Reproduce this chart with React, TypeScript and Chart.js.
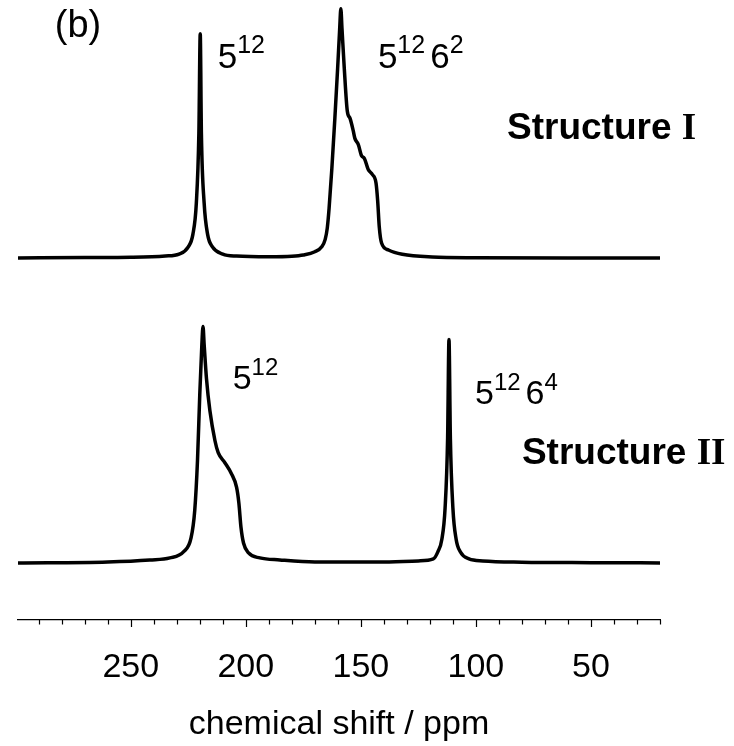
import { useEffect, useRef } from 'react';
import { Chart, registerables } from 'chart.js';

Chart.register(...registerables);

// 13C spectra of the two hydrate structures (intensity in arbitrary units, tallest peak = 100)
const TOP_PPM = [
  299, 270, 250, 235, 229, 225, 223, 221.5, 220.4, 219.8, 219.3, 218.1, 216.6, 214.5, 210, 204, 190,
  180, 175, 170, 167, 165.5, 164.6, 163.8, 162.6, 161.3, 160.1, 159.2, 158.7, 158.2, 157.2, 155.9, 154.7,
  153.3, 152.6, 151.1, 149.7, 148.5, 146.8, 145.0, 143.4, 142.7, 142.0, 141.0, 138.0, 132, 119, 100,
  60, 20,
];
const TOP_INTENSITY = [
  0, 0.2, 0.3, 0.8, 1.6, 4.5, 9.5, 22, 50, 90, 50, 22, 9.5, 4.5, 1.6, 0.8, 0.5,
  0.7, 1.2, 2.5, 4.5, 7.5, 12, 20, 36, 56, 76, 92, 100, 92, 76, 59, 56,
  51, 48, 45.5, 41, 40, 35.5, 33.5, 30, 23, 12.5, 6, 3.2, 1.5, 0.4, 0.1,
  0, 0,
];

const BOTTOM_PPM = [
  299, 260, 241.7, 233, 227, 223.8, 222.2, 221.0, 220.0, 219.1, 218.6, 218.1, 217.1, 215.6, 213.4,
  212.0, 209.1, 206.3, 204.0, 203.0, 202.1, 201.0, 198.8, 193.9, 185.2, 170, 140, 125, 118.5, 116.5,
  114.8, 113.4, 112.3, 111.7, 111.1, 110.0, 108.6, 106.8, 103, 97, 80, 50, 20,
];
const BOTTOM_INTENSITY = [
  0, 0.4, 1.2, 2.0, 4.5, 10, 21, 41, 67.7, 87.6, 94.8, 87.6, 74, 61, 49,
  44.2, 40.2, 35.9, 30.3, 23.9, 14.3, 8, 4, 2, 1.2, 0.4, 0.4, 0.8, 1.6, 4.5,
  9.5, 22, 50, 89.6, 50, 22, 9.5, 4.5, 1.6, 0.8, 0.3, 0.1, 0,
];

// x axis: minor ticks every 10 ppm, labelled every 50 ppm
const TICK_VALUES = [290, 280, 270, 260, 250, 240, 230, 220, 210, 200, 190, 180, 170, 160, 150, 140, 130, 120, 110, 100, 90, 80, 70, 60, 50, 40, 30, 20];
const TICK_LABELS = [250, 200, 150, 100, 50];
const AXIS_TITLE = 'chemical shift / ppm';

const SANS = '"Liberation Sans", Arial, Helvetica, sans-serif';
const SERIF = '"Liberation Serif", "Times New Roman", serif';

type Piece = { text: string; sup?: boolean; bold?: boolean; serif?: boolean; gap?: number };
type Note = { axis: 'yTop' | 'yBottom'; ppm: number; value: number; size: number; pieces: Piece[] };

// cage assignments and panel captions, anchored in data coordinates
const NOTES: Note[] = [
  { axis: 'yTop', ppm: 283, value: 88.6, size: 38, pieces: [{ text: '(b)' }] },
  { axis: 'yTop', ppm: 212.2, value: 76.2, size: 35, pieces: [{ text: '5' }, { text: '12', sup: true }] },
  {
    axis: 'yTop', ppm: 142.6, value: 76.2, size: 35,
    pieces: [{ text: '5' }, { text: '12', sup: true, gap: 5 }, { text: '6' }, { text: '2', sup: true }],
  },
  {
    axis: 'yTop', ppm: 86.5, value: 47.7, size: 37,
    pieces: [{ text: 'Structure ', bold: true }, { text: 'I', bold: true, serif: true }],
  },
  { axis: 'yBottom', ppm: 205.7, value: 69.8, size: 34, pieces: [{ text: '5' }, { text: '12', sup: true }] },
  {
    axis: 'yBottom', ppm: 100.4, value: 63.8, size: 34,
    pieces: [{ text: '5' }, { text: '12', sup: true, gap: 5 }, { text: '6' }, { text: '4', sup: true }],
  },
  {
    axis: 'yBottom', ppm: 80, value: 39.7, size: 37,
    pieces: [{ text: 'Structure ', bold: true }, { text: 'II', bold: true, serif: true }],
  },
];

const tickMarks = {
  id: 'tickMarks',
  afterDraw(chart: any) {
    const s = chart.scales.x;
    const ctx = chart.ctx;
    ctx.save();
    ctx.strokeStyle = '#000';
    ctx.lineWidth = 1.2;
    for (const v of TICK_VALUES) {
      const px = Math.round(s.getPixelForValue(v)) + 0.5;
      const len = TICK_LABELS.includes(v) ? 7 : 4.5;
      ctx.beginPath();
      ctx.moveTo(px, s.top);
      ctx.lineTo(px, s.top + len);
      ctx.stroke();
    }
    ctx.restore();
  },
};

const notes = {
  id: 'notes',
  afterDraw(chart: any) {
    const ctx = chart.ctx;
    const xs = chart.scales.x;
    ctx.save();
    ctx.fillStyle = '#000';
    ctx.textAlign = 'left';
    ctx.textBaseline = 'alphabetic';
    for (const n of NOTES) {
      let x = xs.getPixelForValue(n.ppm);
      const y = chart.scales[n.axis].getPixelForValue(n.value);
      for (const p of n.pieces) {
        const size = p.sup ? Math.round(n.size * 0.7) : n.size;
        ctx.font = `${p.bold ? 'bold ' : ''}${size}px ${p.serif ? SERIF : SANS}`;
        ctx.fillText(p.text, x, p.sup ? y - n.size * 0.42 : y);
        x += ctx.measureText(p.text).width + (p.gap ?? 0);
      }
    }
    ctx.restore();
  },
};

export default function App() {
  const ref = useRef<HTMLCanvasElement | null>(null);

  useEffect(() => {
    if (!ref.current) return;
    const toPoints = (xs: number[], ys: number[]) => xs.map((x, i) => ({ x, y: ys[i] }));
    const line = {
      borderColor: '#000',
      borderWidth: 3.5,
      pointRadius: 0,
      cubicInterpolationMode: 'monotone' as const,
      borderJoinStyle: 'round' as const,
      borderCapStyle: 'round' as const,
      fill: false,
    };
    const chart = new Chart(ref.current, {
      type: 'line',
      data: {
        datasets: [
          { ...line, label: 'Structure I', data: toPoints(TOP_PPM, TOP_INTENSITY), yAxisID: 'yTop' },
          { ...line, label: 'Structure II', data: toPoints(BOTTOM_PPM, BOTTOM_INTENSITY), yAxisID: 'yBottom' },
        ],
      },
      options: {
        responsive: false,
        devicePixelRatio: 1,
        animation: false,
        layout: { padding: { left: 18, right: 74, top: 0, bottom: 0 } },
        plugins: { legend: { display: false }, tooltip: { enabled: false } },
        scales: {
          x: {
            type: 'linear',
            reverse: true,
            min: 20,
            max: 299,
            afterBuildTicks: (s: any) => {
              s.ticks = TICK_VALUES.map((value) => ({ value }));
            },
            afterFit: (s: any) => {
              s.height = 126;
            },
            grid: { display: false, drawTicks: false },
            border: { display: true, color: '#000', width: 1.3 },
            ticks: {
              autoSkip: false,
              maxRotation: 0,
              minRotation: 0,
              padding: 27,
              color: '#000',
              font: { family: SANS, size: 34 },
              callback: (v: any) => (TICK_LABELS.includes(Number(v)) ? String(v) : ''),
            },
            title: {
              display: true,
              text: AXIS_TITLE,
              color: '#000',
              font: { family: SANS, size: 34 },
              padding: { top: 0, bottom: 1 },
            },
          },
          yTop: { type: 'linear', display: false, min: -145.2, max: 103.5 },
          yBottom: { type: 'linear', display: false, min: -22.9, max: 225.8 },
        },
      },
      plugins: [tickMarks, notes],
    });
    return () => chart.destroy();
  }, []);

  return (
    <div style={{ position: 'absolute', left: 0, top: 0, width: 734, height: 746, background: '#fff' }}>
      <canvas ref={ref} width={734} height={746} style={{ display: 'block' }} />
    </div>
  );
}
